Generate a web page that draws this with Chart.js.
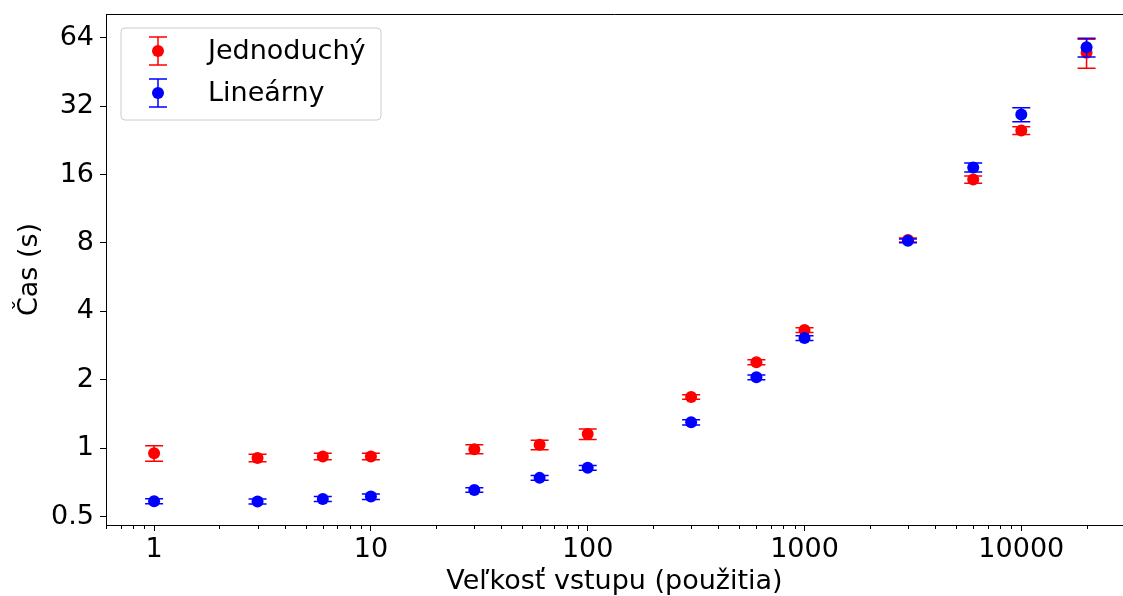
<!DOCTYPE html>
<html>
<head>
<meta charset="utf-8">
<script src="https://cdn.jsdelivr.net/npm/chart.js@4"></script>
<style>
  html, body { margin: 0; padding: 0; background: #fff; }
</style>
</head>
<body>
<canvas id="chart" width="1123" height="596"></canvas>
<script>
// input sizes (x) and measured times (s)
const sizes = [1, 3, 6, 10, 30, 60, 100, 300, 600, 1000, 3000, 6000, 10000, 20000];
const simpleMean = [0.95, 0.906, 0.919, 0.919, 0.99, 1.034, 1.153, 1.68, 2.39, 3.31, 8.25, 15.2, 25.0, 55.0];
const simpleErr = [0.075, 0.035, 0.03, 0.03, 0.045, 0.05, 0.06, 0.04, 0.06, 0.08, 0.17, 0.55, 1.0, 8.0];
const linearMean = [0.584, 0.583, 0.598, 0.612, 0.655, 0.74, 0.819, 1.30, 2.05, 3.05, 8.17, 17.2, 29.4, 58.1];
const linearErr = [0.015, 0.015, 0.015, 0.017, 0.015, 0.018, 0.02, 0.035, 0.05, 0.07, 0.15, 0.8, 2.1, 5.5];
const yTicks = [0.5, 1, 2, 4, 8, 16, 32, 64];
const xTicks = [1, 10, 100, 1000, 10000];
const seriesNames = ["Jednoduchý", "Lineárny"];
const seriesColors = ["#ff0000", "#0000ff"];

const FONT = "DejaVu Sans";

function toPoints(xs, ys) {
  return xs.map((x, i) => ({ x: x, y: ys[i] }));
}

// draws vertical error bars with caps just before each dataset's points
const errorBars = {
  id: "errorBars",
  beforeDatasetDraw(chart, args) {
    const ds = chart.data.datasets[args.index];
    const xs = chart.scales.x, ys = chart.scales.y;
    const ctx = chart.ctx;
    ctx.save();
    ctx.strokeStyle = ds.backgroundColor;
    ctx.lineWidth = 1.5;
    ds.data.forEach((p, i) => {
      const px = xs.getPixelForValue(p.x);
      const top = ys.getPixelForValue(p.y + ds.errors[i]);
      const bot = ys.getPixelForValue(p.y - ds.errors[i]);
      ctx.beginPath();
      ctx.moveTo(px, top); ctx.lineTo(px, bot);
      ctx.moveTo(px - 9, top); ctx.lineTo(px + 9, top);
      ctx.moveTo(px - 9, bot); ctx.lineTo(px + 9, bot);
      ctx.stroke();
    });
    ctx.restore();
  }
};

// top spine, minor x ticks and the matplotlib-like legend box
const decorations = {
  id: "decorations",
  afterDraw(chart) {
    const ctx = chart.ctx;
    const a = chart.chartArea;
    const xs = chart.scales.x;
    ctx.save();
    ctx.strokeStyle = "#000";
    ctx.lineWidth = 1;
    ctx.beginPath();
    ctx.moveTo(a.left, a.top + 0.5);
    ctx.lineTo(a.right, a.top + 0.5);
    ctx.stroke();

    // minor ticks
    ctx.beginPath();
    for (let d = -1; d <= 4; d++) {
      for (let k = 2; k <= 9; k++) {
        const v = k * Math.pow(10, d);
        if (v < xs.min || v > xs.max) continue;
        const px = Math.round(xs.getPixelForValue(v)) + 0.5;
        ctx.moveTo(px, a.bottom);
        ctx.lineTo(px, a.bottom + 4);
      }
    }
    ctx.stroke();

    // legend
    const lx = 121, ly = 28, lw = 260, lh = 92, r = 4;
    ctx.beginPath();
    ctx.moveTo(lx + r, ly);
    ctx.arcTo(lx + lw, ly, lx + lw, ly + lh, r);
    ctx.arcTo(lx + lw, ly + lh, lx, ly + lh, r);
    ctx.arcTo(lx, ly + lh, lx, ly, r);
    ctx.arcTo(lx, ly, lx + lw, ly, r);
    ctx.closePath();
    ctx.fillStyle = "rgba(255,255,255,0.8)";
    ctx.fill();
    ctx.strokeStyle = "#cccccc";
    ctx.stroke();

    seriesNames.forEach((name, i) => {
      const cy = 51 + i * 42;
      const cx = 158;
      ctx.strokeStyle = seriesColors[i];
      ctx.lineWidth = 1.5;
      ctx.beginPath();
      ctx.moveTo(cx, cy - 14); ctx.lineTo(cx, cy + 14);
      ctx.moveTo(cx - 9, cy - 14); ctx.lineTo(cx + 9, cy - 14);
      ctx.moveTo(cx - 9, cy + 14); ctx.lineTo(cx + 9, cy + 14);
      ctx.stroke();
      ctx.fillStyle = seriesColors[i];
      ctx.beginPath();
      ctx.arc(cx, cy, 6, 0, Math.PI * 2);
      ctx.fill();
      ctx.fillStyle = "#000";
      ctx.font = "27px '" + FONT + "'";
      ctx.textBaseline = "middle";
      ctx.textAlign = "left";
      ctx.fillText(name, 208, cy + 1);
    });
    ctx.restore();
  }
};

const ctx = document.getElementById("chart").getContext("2d");
new Chart(ctx, {
  type: "scatter",
  data: {
    datasets: [
      {
        label: seriesNames[0],
        data: toPoints(sizes, simpleMean),
        errors: simpleErr,
        backgroundColor: seriesColors[0],
        borderColor: seriesColors[0],
        pointRadius: 6,
        pointBorderWidth: 0,
        order: 2
      },
      {
        label: seriesNames[1],
        data: toPoints(sizes, linearMean),
        errors: linearErr,
        backgroundColor: seriesColors[1],
        borderColor: seriesColors[1],
        pointRadius: 6,
        pointBorderWidth: 0,
        order: 1
      }
    ]
  },
  options: {
    responsive: false,
    animation: false,
    devicePixelRatio: 1,
    layout: { autoPadding: false, padding: { top: 14, right: 0, left: 0, bottom: 0 } },
    plugins: {
      legend: { display: false },
      tooltip: { enabled: false }
    },
    scales: {
      x: {
        type: "logarithmic",
        min: 0.614,
        max: 29450,
        afterBuildTicks: s => { s.ticks = xTicks.map(v => ({ value: v })); },
        afterFit: s => {
          s.height = 71;
          s.paddingLeft = 0;
          s.paddingRight = 0;
        },
        ticks: {
          callback: v => String(v),
          color: "#000",
          font: { family: FONT, size: 27 },
          maxRotation: 0,
          autoSkip: false,
          padding: 3
        },
        grid: { drawOnChartArea: false, drawTicks: true, tickLength: 6, tickColor: "#000" },
        border: { color: "#000", width: 1 },
        title: {
          display: true,
          text: "Veľkosť vstupu (použitia)",
          color: "#000",
          font: { family: FONT, size: 27 },
          padding: { top: 0, bottom: -2 }
        }
      },
      y: {
        type: "logarithmic",
        min: 0.459,
        max: 81.4,
        afterBuildTicks: s => { s.ticks = yTicks.map(v => ({ value: v })); },
        afterFit: s => {
          s.width = 106;
          s.paddingTop = 0;
          s.paddingBottom = 0;
        },
        ticks: {
          callback: v => String(v),
          color: "#000",
          font: { family: FONT, size: 27 },
          autoSkip: false,
          padding: 6
        },
        grid: { drawOnChartArea: false, drawTicks: true, tickLength: 6, tickColor: "#000" },
        border: { color: "#000", width: 1 },
        title: {
          display: true,
          text: "Čas (s)",
          color: "#000",
          font: { family: FONT, size: 27 },
          padding: { top: 14, bottom: 0 }
        }
      }
    }
  },
  plugins: [errorBars, decorations]
});
</script>
</body>
</html>
